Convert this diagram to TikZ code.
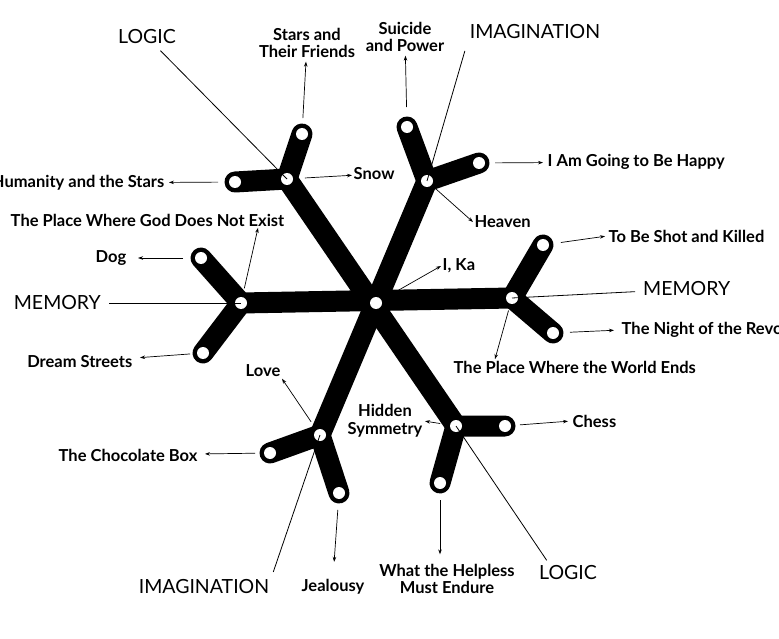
\documentclass[tikz,border=0pt]{standalone}
\usepackage{fontspec}
\setmainfont{Lato}
\usetikzlibrary{arrows.meta,positioning}

\begin{document}
\begin{tikzpicture}[x=1pt,y=-1pt,>={Stealth[length=5pt,width=3.5pt]},
 bar/.style={line width=21pt,line cap=round,line join=round},
 story/.style={font=\fontsize{16.5}{17.5}\selectfont\bfseries,inner sep=1.5pt,align=center},
 theme/.style={font=\fontsize{19.5}{21}\selectfont,inner sep=2pt},
 arr/.style={->,line width=0.7pt},
 guide/.style={line width=0.8pt}]
\useasboundingbox (0,0) rectangle (779,639);
\coordinate (c) at (376,303);
\coordinate (mL) at (241,303); \coordinate (mR) at (512,298);
\coordinate (lU) at (287,179); \coordinate (lD) at (456,426);
\coordinate (iU) at (427,181); \coordinate (iD) at (320,435);
\coordinate (mL1) at (201,258); \coordinate (mL2) at (203,353);
\coordinate (mR1) at (543,245); \coordinate (mR2) at (553,333);
\coordinate (lU1) at (235,182); \coordinate (lU2) at (302,134);
\coordinate (iU1) at (407,127); \coordinate (iU2) at (479,163);
\coordinate (lD1) at (505,426); \coordinate (lD2) at (440,483);
\coordinate (iD1) at (270,453); \coordinate (iD2) at (339,493);
\draw[bar] (mL)--(mR); \draw[bar] (lU)--(lD); \draw[bar] (iU)--(iD);
\draw[bar] (mL1)--(mL)--(mL2); \draw[bar] (mR1)--(mR)--(mR2);
\draw[bar] (lU1)--(lU)--(lU2); \draw[bar] (lD1)--(lD)--(lD2);
\draw[bar] (iU1)--(iU)--(iU2); \draw[bar] (iD1)--(iD)--(iD2);
\foreach \p in {c,mL,mR,lU,lD,iU,iD,mL1,mL2,mR1,mR2,lU1,lU2,iU1,iU2,lD1,lD2,iD1,iD2}
 \fill[white] (\p) circle (6pt);

\node[theme] (logicA) at (147,37) {LOGIC};
\node[theme] (imagA) at (535,32) {IMAGINATION};
\node[theme,anchor=east] (memA) at (103,303) {MEMORY};
\node[theme,anchor=west] (memB) at (641,289) {MEMORY};
\node[theme] (imagB) at (204,587) {IMAGINATION};
\node[theme] (logicB) at (568,573) {LOGIC};

\node[story] (stars) at (307,43) {Stars and\\Their Friends};
\node[story] (suicide) at (405,37) {Suicide\\and Power};
\node[story,anchor=east] (humanity) at (166,183) {Humanity and the Stars};
\node[story,anchor=west] (snow) at (352,174) {Snow};
\node[story,anchor=west] (happy) at (546,162) {I Am Going to Be Happy};
\node[story,anchor=east] (godnot) at (286,220) {The Place Where God Does Not Exist};
\node[story,anchor=west] (heaven) at (473,222) {Heaven};
\node[story,anchor=west] (shot) at (607,236) {To Be Shot and Killed};
\node[story,anchor=east] (dog) at (128,258) {Dog};
\node[story,anchor=west] (ika) at (441,266) {I, Ka};
\node[story,anchor=west] (night) at (620,330) {The Night of the Revolution};
\node[story,anchor=west] (worldends) at (452,367) {The Place Where the World Ends};
\node[story,anchor=east] (dream) at (134,362) {Dream Streets};
\node[story] (love) at (263,371) {Love};
\node[story] (hidden) at (385,421) {Hidden\\Symmetry};
\node[story,anchor=west] (chess) at (571,421) {Chess};
\node[story,anchor=east] (choc) at (199,455) {The Chocolate Box};
\node[story] (jealousy) at (333,587) {Jealousy};
\node[story] (helpless) at (447,579) {What the Helpless\\Must Endure};

\draw[guide,shorten <=6pt] (logicA)--(lU);
\draw[guide,shorten <=10pt] (imagA.south west)--(iU);
\draw[guide,shorten <=6pt] (memA)--(mL);
\draw[guide,shorten >=6pt] (mR)--(memB);
\draw[guide,shorten <=6pt] (imagB.north east)--(iD);
\draw[guide,shorten <=4pt] ([xshift=12pt]logicB.north west)--(lD);

\draw[arr,shorten <=16pt,shorten >=2pt] (lU2)--(stars);
\draw[arr,shorten <=20pt,shorten >=2pt] (iU1)--(suicide);
\draw[arr,shorten <=17pt,shorten >=3pt] (lU1)--(humanity);
\draw[arr,shorten <=18pt] (lU)--(snow);
\draw[arr,shorten <=16pt,shorten >=3pt] (iU2)--(happy);
\draw[arr,shorten <=15pt] (mL)--([xshift=-28pt]godnot.south east);
\draw[arr,shorten <=11pt] (iU)--(heaven.west);
\draw[arr,shorten <=18pt,shorten >=2pt] (mR1)--(shot.west);
\draw[arr,shorten <=18pt,shorten >=10pt] (mL1)--(dog);
\draw[arr,shorten <=20pt] (c)--(ika.west);
\draw[arr,shorten <=17pt,shorten >=6pt] (mR2)--(night.west);
\draw[arr,shorten <=13pt] (mR)--([xshift=43pt]worldends.north west);
\draw[arr,shorten <=13pt,shorten >=6pt] (mL2)--(dream);
\draw[arr,shorten <=16pt] (iD)--(love.south east);
\draw[arr,shorten <=16pt,shorten >=1pt] (lD)--(hidden.east);
\draw[arr,shorten <=15pt,shorten >=3pt] (lD1)--(chess.west);
\draw[arr,shorten <=15pt,shorten >=6pt] (iD1)--(choc);
\draw[arr,shorten <=17pt,shorten >=16pt] (iD2)--(jealousy.north);
\draw[arr,shorten <=17pt,shorten >=8pt] (lD2)--([xshift=-7pt]helpless.north);
\end{tikzpicture}
\end{document}
